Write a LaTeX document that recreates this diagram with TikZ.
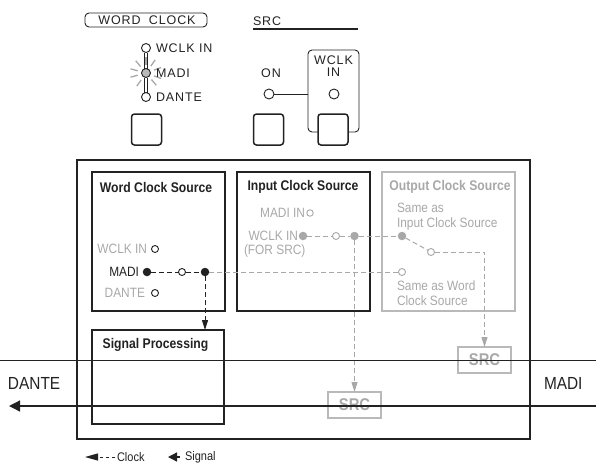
\documentclass[tikz,border=0pt]{standalone}
\usepackage{fontspec}
\setmainfont{Liberation Sans}
\newfontfamily\cn{Liberation Sans}[FakeStretch=0.88]
\newfontfamily\cnb{Liberation Sans}[FakeStretch=0.87]
\newfontfamily\pnl{Liberation Sans}[LetterSpace=7]
\usetikzlibrary{arrows.meta,calc}
\definecolor{lg}{HTML}{A8A8A8}
\definecolor{dk}{HTML}{222222}
\begin{document}
\begin{tikzpicture}[x=1pt,y=-1pt,
  every node/.style={inner sep=0pt,outer sep=0pt},
  ttl/.style={font=\cnb\bfseries\fontsize{14}{16}\selectfont,text=dk},
  gttl/.style={font=\cnb\bfseries\fontsize{14}{16}\selectfont,text=lg},
  lbl/.style={font=\cn\fontsize{13.5}{15}\selectfont,text=lg},
  blbl/.style={font=\cn\fontsize{13.5}{15}\selectfont,text=dk},
  big/.style={font=\cn\fontsize{17.5}{20}\selectfont,text=dk},
  ptxt/.style={font=\pnl\fontsize{12.5}{12.5}\selectfont,text=dk},
  box/.style={draw=dk,line width=1.1pt},
  gbox/.style={draw=lg!80,line width=1.1pt},
  btn/.style={draw=dk,line width=1.5pt,rounded corners=3pt,minimum width=30pt,minimum height=31pt},
  led/.style={circle,draw=dk,line width=0.9pt,fill=white,minimum size=9pt},
  ocirc/.style={circle,draw=dk,line width=0.9pt,fill=white,minimum size=7pt},
  fdot/.style={circle,fill=dk,minimum size=8.5pt},
  gocirc/.style={circle,draw=lg,line width=0.9pt,fill=white,minimum size=7pt},
  gfdot/.style={circle,fill=lg,minimum size=8.5pt},
  clk/.style={draw=dk,line width=1pt,dash pattern=on 5pt off 3pt},
  gclk/.style={draw=lg,line width=1pt,dash pattern=on 5pt off 3pt},
  ctip/.style={-{Triangle[length=10pt,width=6pt]}},
  srcbox/.style={draw=lg!80,line width=1.1pt,minimum width=53pt,minimum height=26pt,
     font=\cnb\bfseries\fontsize{17}{18}\selectfont,text=lg},
  sig/.style={draw=dk,line width=1.3pt}
]
\useasboundingbox (0,0) rectangle (596,464);

% ---------------- top panel ----------------
\node[draw=dk,line width=0.9pt,rounded corners=4pt,minimum width=122pt,minimum height=14pt] (wcbox) at (146,20) {};
\node[ptxt] (wctxt) at (147,20.5) {WORD\hspace{4pt} CLOCK};
\node[ptxt,anchor=west] (srct) at (253,21) {SRC};
\coordinate (srcl0) at (253,29);
\coordinate (srcl1) at (358,29);
\draw[dk,line width=1.6pt] (srcl0) -- (srcl1);

\node[led] (led1) at (146,48) {};
\node[led,fill=lg!80] (led2) at (146,73) {};
\node[led] (led3) at (146,97) {};
\foreach \u/\v in {led1/led2,led2/led3}{
  \draw[dk,line width=0.8pt] ([xshift=-1.3pt]\u.south) -- ([xshift=-1.3pt]\v.north);
  \draw[dk,line width=0.8pt] ([xshift=1.3pt]\u.south) -- ([xshift=1.3pt]\v.north);
}
\foreach \a in {20,55,90,130,165,195,235,310,340}
  \draw[lg,line width=1.3pt] ($(led2)+(\a:8.5pt)$) -- ($(led2)+(\a:16pt)$);
\node[ptxt,anchor=west] (tl1) at (156,48) {WCLK IN};
\node[ptxt,anchor=west] (tl2) at (156,73) {MADI};
\node[ptxt,anchor=west] (tl3) at (156,97) {DANTE};

\node[btn] (b1) at (146.5,129.5) {};
\node[btn] (b2) at (268.5,129.5) {};
\node[btn] (b3) at (333,129.5) {};

\node[ptxt] (ont) at (271,73) {ON};
\node[led,minimum size=10pt] (onled) at (269,94) {};
\node[led,minimum size=10pt] (wled) at (334,94) {};
\node[ptxt,align=center,font=\pnl\fontsize{12.5}{12}\selectfont] (wgt) at (333.5,66) {WCLK\\IN};
\coordinate (gl) at (308,94);
\draw[dk,line width=0.9pt] (onled) -- (gl);
\draw[dk,line width=0.9pt,rounded corners=4pt] ([yshift=-2.5pt]b3.west) -| (308,50) -| (359,132) -- ([yshift=-2.5pt]b3.east);

% ---------------- main diagram ----------------
\node[draw=dk,line width=1.8pt,minimum width=453pt,minimum height=279pt] (outer) at (303.5,299.5) {};
\node[box,minimum width=133pt,minimum height=139pt] (wcs) at (158.5,241.5) {};
\node[box,minimum width=133pt,minimum height=139pt] (ics) at (303.5,241.5) {};
\node[gbox,minimum width=133pt,minimum height=139pt] (ocs) at (448.5,241.5) {};
\node[box,minimum width=132pt,minimum height=94pt] (sp) at (158,377) {};
\node[srcbox] (src1) at (484.5,360) {SRC};
\node[srcbox] (src2) at (354.5,405) {SRC};

\node[ttl] (wcst) at (156,187) {Word Clock Source};
\node[ttl] (icst) at (303,187) {Input Clock Source};
\node[gttl] (ocst) at (450,187) {Output Clock Source};
\node[ttl] (spt) at (155.5,345) {Signal Processing};

% word clock source contents
\node[lbl,anchor=east] (wl1) at (147,249) {WCLK IN};
\node[blbl,anchor=east] (wl2) at (139,272) {MADI};
\node[lbl,anchor=east] (wl3) at (145,293) {DANTE};
\node[ocirc] (wwclk) at (155,249) {};
\node[fdot] (wmadi) at (147,272) {};
\node[ocirc] (wdante) at (155,293) {};
\node[ocirc] (wmid) at (182,272) {};
\node[fdot] (wsplit) at (205,272) {};

% input clock source contents
\node[lbl,anchor=east] (il1) at (305,213) {MADI IN};
\node[gocirc,minimum size=6.5pt] (imadi) at (310,213) {};
\node[lbl,anchor=east] (il2) at (298,236) {WCLK IN};
\node[lbl,anchor=west] (il3) at (244,251) {(FOR SRC)};
\node[gfdot] (iwclk) at (303,236) {};
\node[gocirc] (imid) at (336,236) {};
\node[gfdot] (isplit) at (354.5,236) {};

% output clock source contents
\node[lbl,anchor=west] (ol1) at (397,208) {Same as};
\node[lbl,anchor=west] (ol2) at (397,224) {Input Clock Source};
\node[lbl,anchor=west] (ol3) at (397,286) {Same as Word};
\node[lbl,anchor=west] (ol4) at (397,301) {Clock Source};
\node[gfdot] (osame1) at (402,236) {};
\node[gocirc] (osame2) at (402,272) {};
\node[gocirc] (osw) at (431,252) {};
\coordinate (oc) at (484.5,252);

% clock connectors
\draw[clk] (wmadi) -- (wmid);
\draw[clk] (wmid) -- (wsplit);
\draw[clk,ctip] (wsplit) -- (wsplit |- sp.north);
\draw[gclk] (wsplit) -- (osame2);
\draw[gclk] (iwclk) -- (imid);
\draw[gclk] (imid) -- (isplit);
\draw[gclk] (isplit) -- (osame1);
\draw[gclk] (osame1) -- (osw);
\draw[gclk,ctip] (osw) -- (oc) -- (src1.north);
\draw[gclk,ctip] (isplit) -- (src2.north);

% signal lines
\coordinate (s1l) at (0,360.5);
\coordinate (s1r) at (596,360.5);
\coordinate (s2l) at (9,406);
\coordinate (s2r) at (596,406);
\draw[sig] (s1l) -- (s1r);
\draw[sig,-{Triangle[length=11pt,width=11pt]}] (s2r) -- (s2l);
\node[big,anchor=west] (dante) at (8,383.5) {DANTE};
\node[big,anchor=west] (madi) at (544,383.5) {MADI};

% legend
\coordinate (lc1) at (115,457);
\coordinate (lc0) at (85,457);
\draw[dk,line width=1pt,dash pattern=on 3.5pt off 2.5pt,-{Triangle[length=13pt,width=7pt]}] (lc1) -- (lc0);
\node[blbl,anchor=west,font=\cn\fontsize{12.5}{14}\selectfont] (lct) at (117,457) {Clock};
\coordinate (ls1) at (180,457);
\coordinate (ls0) at (168,457);
\draw[dk,line width=1.3pt,-{Triangle[length=9pt,width=9pt]}] (ls1) -- (ls0);
\node[blbl,anchor=west,font=\cn\fontsize{12.5}{14}\selectfont] (lst) at (185,457) {Signal};
\end{tikzpicture}
\end{document}
